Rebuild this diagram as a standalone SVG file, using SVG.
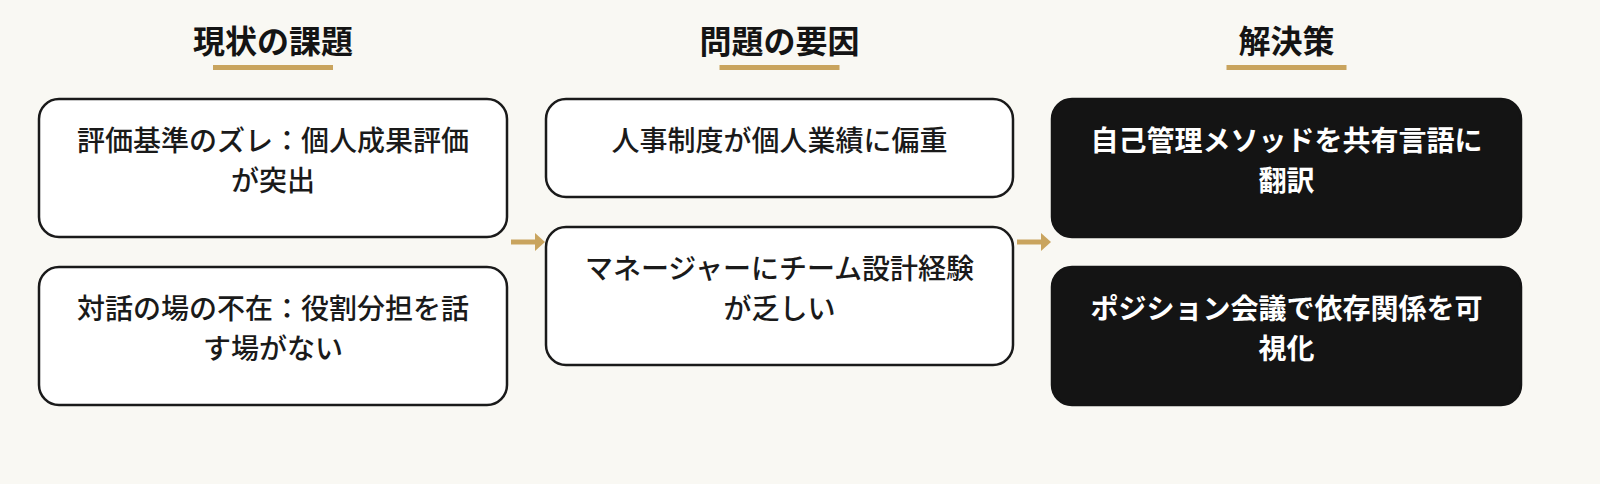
<svg xmlns="http://www.w3.org/2000/svg" width="1600" height="484" viewBox="0 0 1600 484">
  <defs>
    <style>
      .bg { fill: #f9f8f3; }
      .hd { font-family: "Noto Sans CJK JP", "Noto Sans", sans-serif; font-size: 32px; font-weight: 700; fill: #141414; text-anchor: middle; }
      .ul { fill: #c9a45e; }
      .box { fill: #ffffff; stroke: #1a1a1a; stroke-width: 2.5; }
      .dark { fill: #141414; stroke: #141414; stroke-width: 2.5; }
      .t { font-family: "Noto Sans CJK JP", "Noto Sans", sans-serif; font-size: 28px; font-weight: 500; fill: #1a1a1a; text-anchor: middle; }
      .tw { font-family: "Noto Sans CJK JP", "Noto Sans", sans-serif; font-size: 28px; font-weight: 700; fill: #ffffff; text-anchor: middle; }
      .arr { stroke: #c9a45e; stroke-width: 5; fill: none; }
      .ah { fill: #c9a45e; }
    </style>
  </defs>
  <rect class="bg" x="0" y="0" width="1600" height="484"/>

  <g id="header-1">
    <text class="hd" x="273" y="53">現状の課題</text>
    <rect class="ul" x="213" y="65" width="120" height="5"/>
  </g>
  <g id="header-2">
    <text class="hd" x="779.5" y="53">問題の要因</text>
    <rect class="ul" x="719.5" y="65" width="120" height="5"/>
  </g>
  <g id="header-3">
    <text class="hd" x="1286.5" y="53">解決策</text>
    <rect class="ul" x="1226.5" y="65" width="120" height="5"/>
  </g>

  <g id="node-c1a">
    <rect class="box" x="39" y="99" width="468" height="138" rx="20"/>
    <text class="t" x="273" y="151">評価基準のズレ：個人成果評価</text>
    <text class="t" x="273" y="191">が突出</text>
  </g>
  <g id="node-c1b">
    <rect class="box" x="39" y="267" width="468" height="138" rx="20"/>
    <text class="t" x="273" y="319">対話の場の不在：役割分担を話</text>
    <text class="t" x="273" y="359">す場がない</text>
  </g>

  <g id="node-c2a">
    <rect class="box" x="546" y="99" width="467" height="98" rx="20"/>
    <text class="t" x="779.5" y="151">人事制度が個人業績に偏重</text>
  </g>
  <g id="node-c2b">
    <rect class="box" x="546" y="227" width="467" height="138" rx="20"/>
    <text class="t" x="779.5" y="279">マネージャーにチーム設計経験</text>
    <text class="t" x="779.5" y="319">が乏しい</text>
  </g>

  <g id="node-c3a">
    <rect class="dark" x="1052" y="99" width="469" height="138" rx="20"/>
    <text class="tw" x="1286.5" y="151">自己管理メソッドを共有言語に</text>
    <text class="tw" x="1286.5" y="191">翻訳</text>
  </g>
  <g id="node-c3b">
    <rect class="dark" x="1052" y="267" width="469" height="138" rx="20"/>
    <text class="tw" x="1286.5" y="319">ポジション会議で依存関係を可</text>
    <text class="tw" x="1286.5" y="359">視化</text>
  </g>

  <g id="connectors">
    <line class="arr" x1="511" y1="242" x2="537" y2="242"/>
    <polygon class="ah" points="535,233 545,242 535,251"/>
    <line class="arr" x1="1017" y1="242" x2="1043" y2="242"/>
    <polygon class="ah" points="1041,233 1051,242 1041,251"/>
  </g>
</svg>
